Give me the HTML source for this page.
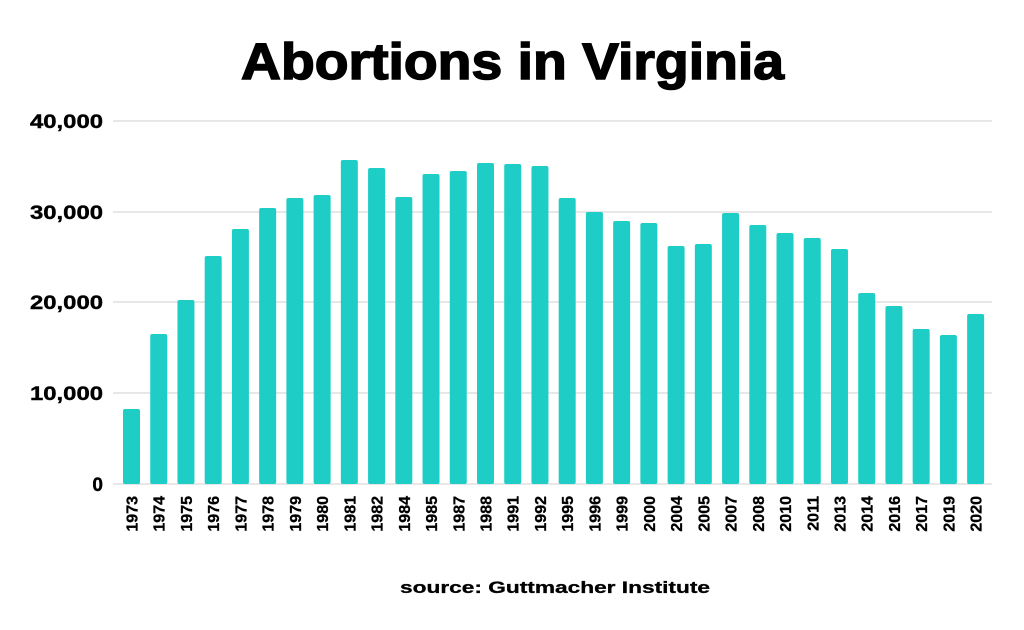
<!DOCTYPE html>
<html><head><meta charset="utf-8"><style>body{margin:0;background:#fff}svg{display:block}</style></head>
<body>
<svg width="1024" height="630" xmlns="http://www.w3.org/2000/svg" font-family="Liberation Sans, Arial, sans-serif" font-weight="bold">
<rect width="1024" height="630" fill="#fff"/>
<text x="241" y="79" font-size="51" fill="#000" stroke="#000" stroke-width="1.5" textLength="543" lengthAdjust="spacingAndGlyphs">Abortions in Virginia</text>
<g stroke="#cfcfcf" stroke-width="1">
<line x1="113" y1="121" x2="992" y2="121"/><line x1="113" y1="212" x2="992" y2="212"/><line x1="113" y1="302" x2="992" y2="302"/><line x1="113" y1="393" x2="992" y2="393"/><line x1="113" y1="484" x2="992" y2="484"/>
</g>
<g font-size="19" fill="#000" stroke="#000" stroke-width="0.4">
<text x="30" y="128" textLength="73" lengthAdjust="spacingAndGlyphs">40,000</text><text x="30" y="219" textLength="73" lengthAdjust="spacingAndGlyphs">30,000</text><text x="30" y="309" textLength="73" lengthAdjust="spacingAndGlyphs">20,000</text><text x="30" y="400" textLength="73" lengthAdjust="spacingAndGlyphs">10,000</text><text x="103" y="491" text-anchor="end">0</text>
</g>
<g id="bars" fill="#1ecdc6"></g>
<g id="labels" font-size="16" fill="#000" stroke="#000" stroke-width="0.3"></g>
<text x="400" y="593" font-size="17" fill="#000" stroke="#000" stroke-width="0.3" textLength="310" lengthAdjust="spacingAndGlyphs">source: Guttmacher Institute</text>
<script>
var d=[[1973,409],[1974,334],[1975,300],[1976,256],[1977,229],[1978,208],[1979,198],[1980,195],[1981,160],[1982,168],[1984,197],[1985,174],[1987,171],[1988,163],[1991,164],[1992,166],[1995,198],[1996,212],[1999,221],[2000,223],[2004,246],[2005,244],[2007,213],[2008,225],[2010,233],[2011,238],[2013,249],[2014,293],[2016,306],[2017,329],[2019,335],[2020,314]];
var ns="http://www.w3.org/2000/svg",b=document.getElementById('bars'),l=document.getElementById('labels');
d.forEach(function(e,i){var cx=131.5+i*27.23;var r=document.createElementNS(ns,'rect');
r.setAttribute('x',cx-8.5);r.setAttribute('y',e[1]);r.setAttribute('width',17);r.setAttribute('height',484-e[1]);r.setAttribute('rx',2);b.appendChild(r);
var t=document.createElementNS(ns,'text');t.setAttribute('transform','translate('+(cx+6)+',496) rotate(-90)');t.setAttribute('text-anchor','end');t.textContent=e[0];l.appendChild(t);});
</script>
</svg>
</body></html>
